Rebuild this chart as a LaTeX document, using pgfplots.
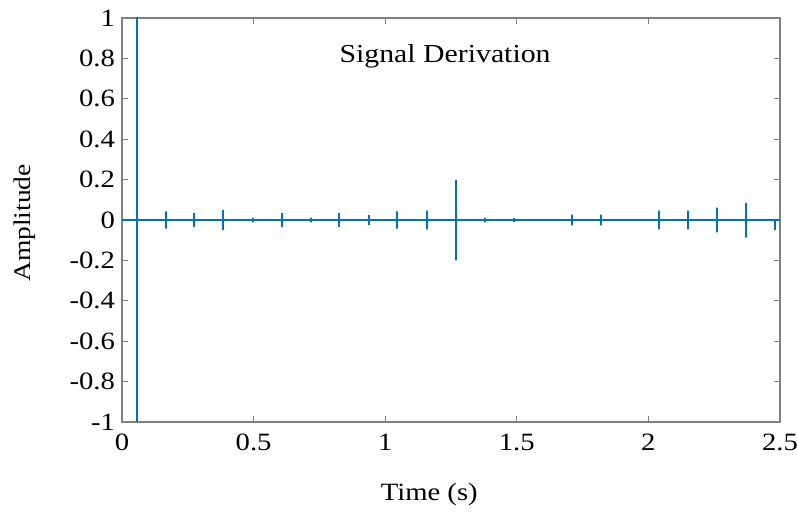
\documentclass[border=0pt]{standalone}
\usepackage{pgfplots}
\pgfplotsset{compat=1.18}
\usepackage{fontspec}
\setmainfont{Liberation Serif}[FakeStretch=1.15]
\definecolor{mblue}{RGB}{0,114,189}
\definecolor{framegray}{RGB}{128,128,128}
\begin{document}
\begin{tikzpicture}
\begin{axis}[
  scale only axis,
  width=329bp, height=202bp,
  xmin=0, xmax=2.5, ymin=-1, ymax=1,
  xtick={0,0.5,1,1.5,2,2.5},
  xticklabels={0,0.5,1,1.5,2,2.5},
  ytick={-1,-0.8,-0.6,-0.4,-0.2,0,0.2,0.4,0.6,0.8,1},
  yticklabels={-1,-0.8,-0.6,-0.4,-0.2,0,0.2,0.4,0.6,0.8,1},
  tick align=inside,
  major tick length=3bp,
  axis line style={framegray, line width=1bp},
  every tick/.style={framegray, line width=0.6bp},
  tick label style={font=\fontsize{12.5}{15}\selectfont, black},
  yticklabel style={xshift=0bp},
  xticklabel style={yshift=-2.5bp},
  every axis y label/.style={at={(axis description cs:-0.1398,0.4926)}, rotate=90, anchor=base, font=\fontsize{12}{14}\selectfont},
  every axis x label/.style={at={(axis description cs:0.467,-0.1955)}, anchor=base, font=\fontsize{12.5}{15}\selectfont},
  xlabel={Time (s)},
  ylabel={Amplitude},
  clip=true,
]
\addplot[mblue, line width=1bp, sharp plot, mark=none] coordinates {
(0,0)
(0.056,0) (0.056,3) (0.056,-3) (0.056,0)
(0.166,0) (0.166,0.043) (0.166,-0.043) (0.166,0)
(0.275,0) (0.275,0.035) (0.275,-0.035) (0.275,0)
(0.385,0) (0.385,0.05) (0.385,-0.05) (0.385,0)
(0.497,0) (0.497,0.012) (0.497,-0.012) (0.497,0)
(0.607,0) (0.607,0.035) (0.607,-0.035) (0.607,0)
(0.717,0) (0.717,0.012) (0.717,-0.012) (0.717,0)
(0.826,0) (0.826,0.035) (0.826,-0.035) (0.826,0)
(0.937,0) (0.937,0.025) (0.937,-0.025) (0.937,0)
(1.046,0) (1.046,0.043) (1.046,-0.043) (1.046,0)
(1.158,0) (1.158,0.047) (1.158,-0.047) (1.158,0)
(1.268,0) (1.268,0.198) (1.268,-0.2) (1.268,0)
(1.379,0) (1.379,0.012) (1.379,-0.012) (1.379,0)
(1.489,0) (1.489,0.01) (1.489,-0.01) (1.489,0)
(1.601,0) (1.601,0.003) (1.601,-0.003) (1.601,0)
(1.711,0) (1.711,0.027) (1.711,-0.027) (1.711,0)
(1.819,0) (1.819,0.027) (1.819,-0.027) (1.819,0)
(2.040,0) (2.040,0.047) (2.040,-0.047) (2.040,0)
(2.152,0) (2.152,0.046) (2.152,-0.046) (2.152,0)
(2.259,0) (2.259,0.061) (2.259,-0.061) (2.259,0)
(2.371,0) (2.371,0.085) (2.371,-0.087) (2.371,0)
(2.481,0) (2.481,0.005) (2.481,-0.05) (2.481,0)
(2.5,0)
};
\node[anchor=base, font=\fontsize{13}{16}\selectfont] at (axis description cs:0.491,0.889) {Signal Derivation};
\end{axis}
\pgfresetboundingbox
\path[use as bounding box] (-61bp,-47bp) rectangle (337.5bp,211bp);
\end{tikzpicture}
\end{document}
